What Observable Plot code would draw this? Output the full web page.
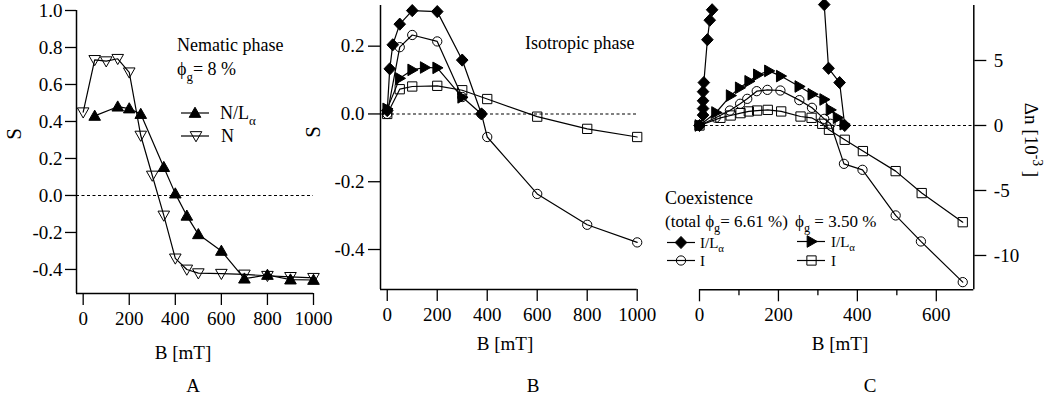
<!DOCTYPE html>
<html><head><meta charset="utf-8">
<script src="https://cdn.jsdelivr.net/npm/d3@7"></script>
<script src="https://cdn.jsdelivr.net/npm/@observablehq/plot@0.6"></script>
<style>
html,body{margin:0;padding:0;background:#fff;}
#fig{position:relative;width:1050px;height:402px;overflow:hidden;background:#fff;}
#fig svg{position:absolute;left:0;top:0;}
#fig svg text{font-family:"Liberation Serif",serif;}
</style></head>
<body><div id="fig"></div>
<script>
// ---------- Panel A : nematic phase, S vs B [mT] ----------
const A_B_NL = [50,150,200,250,350,400,450,500,600,700,800,900,1000];
const A_S_NL = [0.43,0.48,0.47,0.44,0.153,0.01,-0.11,-0.21,-0.30,-0.45,-0.43,-0.455,-0.457];
const A_B_N  = [0,50,100,150,200,250,300,350,400,450,500,600,700,800,900,1000];
const A_S_N  = [0.45,0.733,0.726,0.739,0.666,0.324,0.108,-0.108,-0.34,-0.40,-0.42,-0.423,-0.427,-0.434,-0.44,-0.445];
const A_XTICKS = [0,200,400,600,800,1000];
const A_YTICKS = [-0.4,-0.2,0,0.2,0.4,0.6,0.8,1.0];

// ---------- Panel B : isotropic phase, S vs B [mT] ----------
const B_B_ILc = [0,10,22,50,100,200,300,377];
const B_S_ILc = [0.01,0.133,0.204,0.265,0.305,0.302,0.159,0.0];
const B_B_Ic  = [0,50,100,200,300,377,400,600,800,1000];
const B_S_Ic  = [0.0,0.197,0.233,0.214,0.05,0.0,-0.068,-0.236,-0.327,-0.379];
const B_B_IL  = [0,50,100,150,200,300];
const B_S_IL  = [0.015,0.105,0.13,0.137,0.136,0.049];
const B_B_I   = [0,50,100,200,300,400,600,800,1000];
const B_S_I   = [0.0,0.073,0.081,0.083,0.07,0.044,-0.008,-0.044,-0.068];
const B_XTICKS = [0,200,400,600,800,1000];
const B_YTICKS = [-0.4,-0.2,0,0.2];

// ---------- Panel C : birefringence, Δn [1e-3] vs B [mT] ----------
const C_B_ILc_1 = [0,9,9,9,9,11,20,26,32];
const C_N_ILc_1 = [0,0.8,1.3,1.9,2.6,3.3,6.6,8.1,8.9];
const C_B_ILc_2 = [316,327,355,368];
const C_N_ILc_2 = [9.3,4.4,3.3,0.0];
const C_B_Ic = [0,41,77,103,121,145,172,205,253,285,316,332,366,413,497,561,667];
const C_N_Ic = [0,0.6,1.15,1.67,2.05,2.64,2.74,2.69,1.95,1.36,0.51,0.13,-2.95,-3.41,-6.92,-8.92,-12.05];
const C_B_IL = [0,42,79,102,126,148,176,206,253,286,316,332,350,367];
const C_N_IL = [0,1.0,2.3,2.9,3.4,3.9,4.2,3.8,3.0,2.4,2.0,1.2,0.6,0.1];
const C_B_I  = [0,53,79,104,125,146,173,207,256,284,311,328,368,414,497,563,667];
const C_N_I  = [0,0.59,0.77,0.95,1.08,1.15,1.2,1.08,0.69,0.59,0.13,-0.33,-1.1,-1.97,-3.51,-5.2,-7.44];
const C_XTICKS = [0,200,400,600];
const C_XMINOR = [100,300,500];
const C_YTICKS = [-10,-5,0,5];

// ---------- helpers ----------
function sym(kind){
  return {draw(ctx, size){
    const r = Math.sqrt(size/Math.PI);
    if (kind==="up"){ctx.moveTo(0,-1.0*r);ctx.lineTo(r,0.75*r);ctx.lineTo(-r,0.75*r);ctx.closePath();}
    else if (kind==="down"){ctx.moveTo(0,1.0*r);ctx.lineTo(r,-0.75*r);ctx.lineTo(-r,-0.75*r);ctx.closePath();}
    else if (kind==="right"){ctx.moveTo(1.0*r,0);ctx.lineTo(-0.75*r,-r);ctx.lineTo(-0.75*r,r);ctx.closePath();}
    else if (kind==="diamond"){ctx.moveTo(0,-1.05*r);ctx.lineTo(r,0);ctx.lineTo(0,1.05*r);ctx.lineTo(-r,0);ctx.closePath();}
    else if (kind==="square"){const s=0.8*r;ctx.moveTo(-s,-s);ctx.lineTo(s,-s);ctx.lineTo(s,s);ctx.lineTo(-s,s);ctx.closePath();}
    else {const c=0.8*r;ctx.moveTo(c,0);ctx.arc(0,0,c,0,2*Math.PI);}
  }};
}
const R = 5.8;
const SERIF = "Liberation Serif";
function table(xs, ys, z){ return xs.map((b,i)=>({B:b, v:ys[i], z: z||"a"})); }
function series(data, kind, filled){
  return [
    Plot.line(data, {x:"B", y:"v", z:"z", stroke:"black", strokeWidth:1.2}),
    Plot.dot(data, {x:"B", y:"v", symbol: sym(kind), r: R, fill: filled ? "black" : "none", stroke:"black", strokeWidth:1})
  ];
}
const fmt1 = d => d.toFixed(1);
const STYLE = "position:absolute;left:0;top:0;background:transparent;overflow:visible;max-width:none;font-family:'Liberation Serif',serif;font-size:19px;color:black;";
const AX = {label:null, strokeWidth:1.3, fontFamily:SERIF, fontSize:19, fill:"black"};

function makePanel(o){
  return Plot.plot({
    width:1050, height:402,
    marginLeft:o.ml, marginRight:o.mr, marginTop:o.mt, marginBottom:o.mb,
    style: STYLE,
    x:{domain:o.xd}, y:{domain:o.yd},
    marks: o.marks
  });
}

const fig = document.getElementById("fig");
const DASH = {stroke:"black", strokeWidth:1.1, strokeDasharray:"3,2.5"};

// Panel A
fig.appendChild(makePanel({
  ml:76, mr:1050-313, mt:10, mb:402-293,
  xd:[-29,1000], yd:[-0.53,1.0],
  marks:[
    Plot.ruleY([0], DASH),
    ...series(table(A_B_NL, A_S_NL), "up", true),
    ...series(table(A_B_N, A_S_N), "down", false),
    Plot.ruleX([-29], {stroke:"black", strokeWidth:1.5}),
    Plot.ruleY([-0.53], {stroke:"black", strokeWidth:1.5}),
    Plot.axisY({...AX, ticks:A_YTICKS, tickFormat:fmt1, tickSize:11, tickPadding:3}),
    Plot.axisX({...AX, ticks:A_XTICKS, tickFormat:d=>String(d), tickSize:12, tickPadding:6})
  ]
}));

// Panel B
fig.appendChild(makePanel({
  ml:380, mr:1050-636.7, mt:5, mb:113,
  xd:[-27,1000], yd:[-0.518,0.32],
  marks:[
    Plot.ruleY([0], DASH),
    ...series(table(B_B_I, B_S_I), "square", false),
    ...series(table(B_B_IL, B_S_IL), "right", true),
    ...series(table(B_B_Ic, B_S_Ic), "circle", false),
    ...series(table(B_B_ILc, B_S_ILc), "diamond", true),
    Plot.ruleX([-27], {stroke:"black", strokeWidth:1.5}),
    Plot.ruleY([-0.518], {stroke:"black", strokeWidth:1.5}),
    Plot.axisY({...AX, ticks:B_YTICKS, tickFormat:fmt1, tickSize:12, tickPadding:4}),
    Plot.axisX({...AX, ticks:B_XTICKS, tickFormat:d=>String(d), tickSize:12, tickPadding:6})
  ]
}));

// Panel C
const C_dia = table(C_B_ILc_1, C_N_ILc_1, "low").concat(table(C_B_ILc_2, C_N_ILc_2, "high"));
fig.appendChild(makePanel({
  ml:699, mr:1050-973.3, mt:5, mb:402-289.3,
  xd:[0,695], yd:[-12.64,9.23],
  marks:[
    Plot.ruleY([0], DASH),
    ...series(table(C_B_I, C_N_I), "square", false),
    ...series(table(C_B_Ic, C_N_Ic), "circle", false),
    ...series(table(C_B_IL, C_N_IL), "right", true),
    ...series(C_dia, "diamond", true),
    Plot.ruleX([695], {stroke:"black", strokeWidth:1.5}),
    Plot.ruleY([-12.64], {stroke:"black", strokeWidth:1.5}),
    Plot.axisY({...AX, anchor:"right", ticks:C_YTICKS, tickFormat:d=>String(d), tickSize:12, tickPadding:8}),
    Plot.axisX({...AX, ticks:C_XTICKS, tickFormat:d=>String(d), tickSize:12, tickPadding:6}),
    Plot.axisX({...AX, ticks:C_XMINOR, tickFormat:()=>"", tickSize:6})
  ]
}));

// ---------- overlay: labels, annotations, legends ----------
const ov = d3.select(fig).append("svg")
  .attr("width",1050).attr("height",402)
  .style("font-family","'Liberation Serif',serif").style("overflow","visible");

function rich(x, y, parts, fs, anchor, rotate){
  const t = ov.append("text").attr("x",x).attr("y",y).attr("dy","0.35em")
    .attr("font-size",fs).attr("text-anchor",anchor||"start").attr("fill","black");
  if (rotate) t.attr("transform",`rotate(${rotate},${x},${y})`);
  let shift = 0;
  for (const p of parts){
    if (typeof p === "string"){
      const s = t.append("tspan").text(p);
      if (shift) { s.attr("dy", -shift); shift = 0; }
    } else if (p.sub){
      const d = 0.3*fs - shift;
      t.append("tspan").attr("font-size",0.72*fs).attr("dy",d).text(p.sub);
      shift = 0.3*fs;
    } else if (p.sup){
      const d = -0.42*fs - shift;
      t.append("tspan").attr("font-size",0.72*fs).attr("dy",d).text(p.sup);
      shift = -0.42*fs;
    }
  }
  return t;
}
function legendItem(x1, x2, xm, y, kind, filled){
  ov.append("line").attr("x1",x1).attr("x2",x2).attr("y1",y).attr("y2",y).attr("stroke","black").attr("stroke-width",1.2);
  const p = d3.path(); sym(kind).draw(p, Math.PI*R*R);
  ov.append("path").attr("d",p.toString()).attr("transform",`translate(${xm},${y})`)
    .attr("fill",filled?"black":"none").attr("stroke","black").attr("stroke-width",1);
}

// Panel A texts
rich(14,134,["S"],21,"middle",-90);
rich(183,352,["B [mT]"],19,"middle");
rich(193,385,["A"],19,"middle");
rich(177,45,["Nematic phase"],18);
rich(177,69,["ϕ",{sub:"g"},"= 8 %"],18);
legendItem(181,209,195,113,"up",true);
rich(220,113,["N/L",{sub:"α"}],18);
legendItem(181,209,196,136,"down",false);
rich(221,136,[" N"],18);

// Panel B texts
rich(313,132,["S"],21,"middle",-90);
rich(505,343,["B [mT]"],19,"middle");
rich(533,385,["B"],19,"middle");
rich(525,43,["Isotropic phase"],18);

// Panel C texts
rich(840,343,["B [mT]"],19,"middle");
rich(870,385,["C"],19,"middle");
rich(1032,140,["Δn [10",{sup:"-3"}," ]"],19,"middle",90);
rich(665,198,["Coexistence"],18);
rich(665,221,["(total ϕ",{sub:"g"},"= 6.61 %)"],17);
rich(795,221,["ϕ",{sub:"g"}," = 3.50 %"],17);
legendItem(667,695,681,242.5,"diamond",true);
rich(700,242.5,["I/L",{sub:"α"}],15);
legendItem(667,695,681,260.5,"circle",false);
rich(700,260.5,["I"],15);
legendItem(797,825,811.5,241.5,"right",true);
rich(831,241.5,["I/L",{sub:"α"}],15);
legendItem(797,825,811.5,260.5,"square",false);
rich(831,260.5,["I"],15);
</script>
</body></html>
